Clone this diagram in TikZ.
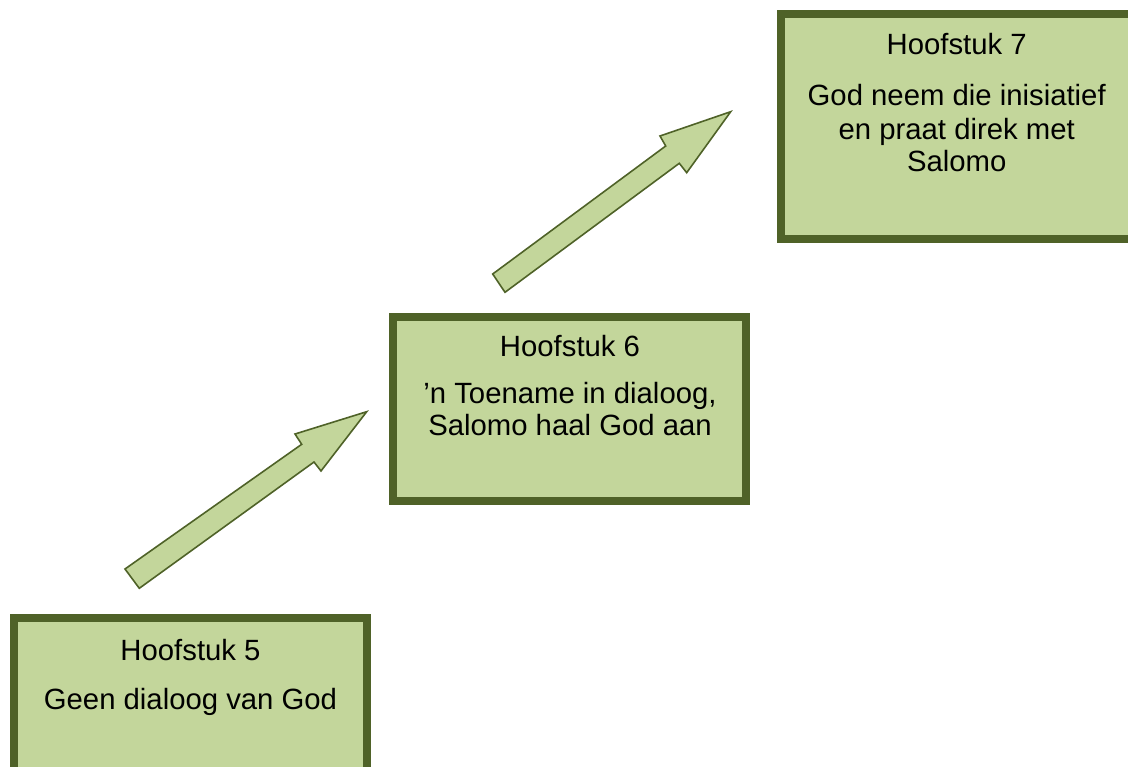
\documentclass[tikz,border=0pt]{standalone}
\usepackage{fontspec}
\setmainfont{Liberation Sans}
\definecolor{boxfill}{HTML}{C3D69B}
\definecolor{boxline}{HTML}{4F6228}
\begin{document}
\begin{tikzpicture}[x=1pt,y=-1pt,
  chapbox/.style={draw=boxline, line width=8pt, fill=boxfill, rectangle, inner sep=0pt, outer sep=0pt},
  blockarrow/.style={draw=boxline, line width=1.6pt, fill=boxfill, line join=miter},
  txt/.style={anchor=base, font=\fontsize{29.3}{33}\selectfont, inner sep=0pt}]
\useasboundingbox (0,0) rectangle (1128,767);
% boxes
\node[chapbox, minimum width=353pt, minimum height=162.5pt] (b5) at (190.5,698.75) {};
\node[chapbox, minimum width=352.7pt, minimum height=183.8pt] (b6) at (569.65,408.6) {};
\node[chapbox, minimum width=351pt, minimum height=225pt] (b7) at (956.5,126.5) {};
% arrows
\draw[blockarrow] (125,569) -- (301.7,444.3) -- (295,434) -- (366.7,411.7) -- (321,471) -- (314,462) -- (139.3,588.3) -- cycle;
\draw[blockarrow] (492.7,274) -- (665.7,146) -- (660,136) -- (730.7,111.7) -- (686.7,172.7) -- (679.3,163.3) -- (505,292.3) -- cycle;
% texts
\node[txt] (t5a) at (190.5,660) {Hoofstuk 5};
\node[txt] (t5b) at (190.5,709) {Geen dialoog van God};
\node[txt] (t6a) at (570,357) {Hoofstuk 6};
\node[txt] (t6b) at (570,403) {’n Toename in dialoog,};
\node[txt] (t6c) at (570,435.5) {Salomo haal God aan};
\node[txt] (t7a) at (956.7,55) {Hoofstuk 7};
\node[txt] (t7b) at (956.7,106) {God neem die inisiatief};
\node[txt] (t7c) at (956.7,139.5) {en praat direk met};
\node[txt] (t7d) at (956.7,172) {Salomo};
\end{tikzpicture}
\end{document}
